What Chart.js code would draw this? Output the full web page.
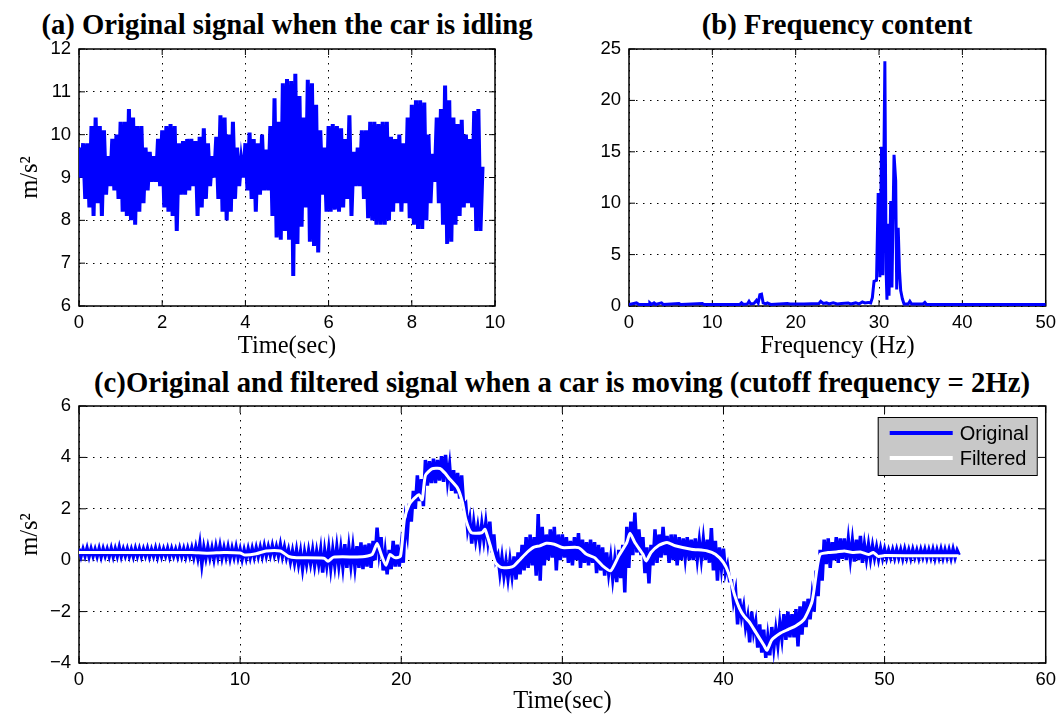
<!DOCTYPE html>
<html>
<head>
<meta charset="utf-8">
<title>Car acceleration signals</title>
<script src="https://cdn.jsdelivr.net/npm/chart.js@4.4.1/dist/chart.umd.min.js"></script>
<style>
  html, body { margin: 0; padding: 0; background: #fff; overflow: hidden; }
  body { position: relative; width: 1062px; height: 719px; }
  canvas { position: absolute; }
  .title { position: absolute; transform: translateX(-50%); white-space: nowrap;
           font: bold 28.7px "Liberation Serif", "Times New Roman", serif; line-height: 30px; color: #000; }
</style>
</head>
<body>
<div class="title" style="left:287px; top:9px;">(a) Original signal when the car is idling</div>
<div class="title" style="left:837px; top:9px;">(b) Frequency content</div>
<div class="title" style="left:562px; top:367px;">(c)Original and filtered signal when a car is moving (cutoff frequency = 2Hz)</div>
<canvas id="chartA" width="530" height="370" style="left:0; top:0;"></canvas>
<canvas id="chartB" width="502" height="370" style="left:560px; top:0;"></canvas>
<canvas id="chartC" width="1062" height="349" style="left:0; top:370px;"></canvas>
<script>
// ========================
// DATA
// ========================
// (a) idling: peaks / troughs of the trace, one every idleStep seconds
const idleStep = 0.05;
const idleAccel = [
  9.7, 9.0, 9.8, 8.5, 9.8, 8.3, 10.2, 8.1, 10.4, 8.4, 10.2, 8.1, 10.1, 8.6, 9.5, 8.8, 9.9, 8.7, 10.0, 8.5,
  10.3, 8.2, 10.3, 8.1, 10.6, 8.0, 10.4, 7.9, 10.2, 8.2, 10.2, 8.4, 9.7, 8.7, 9.6, 8.9, 9.5, 8.9, 9.9, 8.8,
  10.1, 8.3, 10.2, 8.2, 10.25, 8.1, 10.2, 7.75, 9.8, 8.6, 9.85, 8.6, 9.9, 8.7, 9.9, 8.8, 9.85, 8.1, 9.95, 8.3,
  10.15, 8.5, 9.8, 8.8, 9.5, 9.0, 9.95, 8.5, 10.45, 8.2, 10.4, 8.0, 10.0, 8.2, 10.3, 8.5, 9.7, 8.8, 9.4, 9.0,
  9.8, 8.7, 10.05, 8.5, 9.9, 8.2, 9.8, 8.6, 10.0, 8.7, 9.65, 8.7, 10.2, 8.1, 10.85, 7.6, 10.3, 7.55, 11.2, 7.75,
  11.3, 7.55, 11.25, 6.7, 11.42, 7.45, 10.9, 7.85, 10.4, 8.3, 11.28, 7.5, 11.2, 7.4, 10.7, 7.25, 10.1, 8.6, 9.7, 8.2,
  10.2, 8.2, 10.25, 8.25, 10.2, 8.2, 10.15, 8.3, 9.9, 8.5, 10.45, 8.1, 9.6, 8.8, 9.7, 8.8, 10.1, 8.5, 10.1, 8.05,
  10.3, 8.0, 10.3, 7.9, 10.25, 7.9, 10.3, 7.9, 10.3, 8.0, 9.95, 8.2, 9.9, 8.4, 10.0, 8.2, 9.8, 8.4, 10.4, 8.05,
  10.7, 7.9, 10.8, 7.8, 10.8, 7.8, 10.75, 8.0, 10.0, 8.4, 9.55, 8.9, 10.4, 8.4, 10.6, 7.9, 11.15, 7.45, 10.8, 7.5,
  10.4, 7.9, 10.25, 8.1, 10.35, 8.3, 10.0, 8.4, 9.9, 8.3, 10.55, 7.75, 10.6, 7.75, 9.25
];

// (b) frequency content
const freqHz = [
  0, 0.9, 1.2, 2.4, 2.5, 2.7, 3.0, 3.2, 3.9, 4.1, 6.0, 6.2, 8.8, 9.0, 13.3, 13.5, 13.7, 14.2, 14.4, 14.6,
  15.0, 15.3, 15.5, 15.7, 15.9, 16.1, 16.4, 16.6, 17.0, 19.0, 19.3, 21.0, 22.8, 23.0, 23.3, 23.7, 24.0, 24.5,
  25.0, 25.5, 26.3, 26.6, 27.2, 27.6, 28.0, 28.3, 28.7, 29.0, 29.2, 29.4, 29.7, 29.9, 30.1, 30.3, 30.45, 30.7,
  30.85, 30.95, 31.05, 31.2, 31.4, 31.55, 31.8, 32.0, 32.12, 32.3, 32.45, 32.6, 32.8, 33.0, 33.5, 33.7, 33.9,
  35.3, 35.5, 35.7, 50
];
const freqAmp = [
  0.15, 0.3, 0.15, 0.15, 0.3, 0.15, 0.3, 0.15, 0.3, 0.15, 0.25, 0.15, 0.25, 0.15, 0.15, 0.3, 0.15, 0.2, 0.45, 0.2,
  0.25, 0.55, 0.3, 1.1, 1.15, 0.3, 0.2, 0.3, 0.15, 0.25, 0.2, 0.2, 0.25, 0.45, 0.25, 0.3, 0.2, 0.3,
  0.2, 0.25, 0.3, 0.2, 0.3, 0.2, 0.4, 0.3, 0.35, 0.3, 0.8, 2.4, 2.5, 11, 2.8, 15.5, 3.0, 23.8,
  3.5, 0.6, 8.0, 1.0, 10.2, 1.8, 14.7, 12.2, 1.6, 7.6, 3.5, 1.5, 0.7, 0.2, 0.2, 0.45, 0.2,
  0.2, 0.35, 0.15, 0.15
];

// (c) moving car: original trace peaks / troughs every moveStep seconds (8 per second)
const moveStep = 0.125;
const moveOriginal = [
  0.45, 0.15, 0.43, 0.17, 0.46, 0.14, 0.44, 0.16,   0.42, 0.15, 0.45, 0.13, 0.44, 0.17, 0.43, 0.15,
  0.46, 0.14, 0.44, 0.16, 0.5, 0.15, 0.43, 0.17,    0.44, 0.15, 0.42, 0.14, 0.45, 0.16, 0.44, 0.15,
  0.43, 0.17, 0.45, 0.14, 0.42, 0.16, 0.46, 0.13,   0.44, 0.15, 0.43, 0.17, 0.45, 0.14, 0.44, 0.16,
  0.42, 0.14, 0.46, 0.15, 0.44, 0.13, 0.45, 0.16,   0.47, 0.12, 0.5, 0.1, 0.62, -0.15, 0.48, 0.08,
  0.5, 0.1, 0.47, 0.05, 0.52, 0.12, 0.55, 0.1,      0.48, 0.12, 0.5, 0.08, 0.46, 0.12, 0.5, 0.1,
  0.42, 0.04, 0.4, 0.08, 0.44, 0.1, 0.45, 0.12,     0.48, 0.15, 0.5, 0.16, 0.55, 0.18, 0.52, 0.2,
  0.56, 0.2, 0.52, 0.18, 0.6, 0.15, 0.5, 0.1,       0.4, -0.05, 0.35, -0.1, 0.38, -0.15, 0.32, -0.32,
  0.3, -0.15, 0.36, -0.12, 0.38, -0.2, 0.33, -0.15, 0.4, -0.48, 0.35, -0.2, 0.45, -0.3, 0.4, -0.2,
  0.5, -0.2, 0.45, -0.25, 0.62, -0.3, 0.5, -0.2,    0.5, -0.25, 0.55, -0.3, 0.69, -0.35, 0.6, -0.25,
  0.65, -0.3, 0.75, 0.0, 1.27, 0.3, 0.9, -0.4,      0.3, -0.55, 0.4, -0.35, 0.75, -0.25, 0.6, -0.25,
  0.55, -0.1, 1.5, 1.0, 2.2, 1.5, 2.7, 2.0,         3.3, 2.3, 3.15, 2.1, 3.9, 2.9, 3.85, 3.0,
  3.95, 3.0, 3.9, 3.1, 4.05, 3.05, 4.1, 3.1,        3.7, 2.7, 3.5, 2.6, 3.4, 2.4, 3.3, 2.1,
  2.2, 1.2, 1.6, 0.65, 1.45, 0.8, 1.3, 0.7,         1.4, 0.8, 1.45, 0.75, 1.5, 0.3, 1.0, 0.0,
  0.2, -0.5, 0.1, -0.6, -0.05, -0.7, 0.0, -0.6,     0.15, -0.75, 0.3, -0.55, 0.6, -0.4, 0.9, -0.3,
  1.0, -0.2, 0.9, -0.6, 1.8, -0.8, 1.3, -0.2,       1.0, 0.0, 1.2, 0.1, 1.3, -0.4, 1.0, 0.0,
  1.0, 0.1, 0.9, -0.1, 0.75, -0.2, 0.9, 0.0,        1.05, -0.3, 0.8, -0.1, 0.7, -0.2, 0.8, -0.1,
  0.7, -0.5, 0.6, -0.4, 0.5, -0.6, 0.3, -0.5,       0.1, -0.7, 0.0, -0.85, 0.4, -0.7, 0.6, -1.25,
  1.3, -0.3, 1.5, 0.2, 1.85, 0.3, 1.2, 0.2,         0.9, -0.5, 0.5, -0.9, 0.6, -0.2, 1.2, -0.1,
  1.0, 0.1, 1.3, 0.2, 0.95, -0.1, 1.0, 0.0,         1.0, -0.2, 0.9, 0.0, 0.85, 0.1, 0.9, 0.0,
  0.8, 0.0, 0.85, 0.05, 0.75, 0.05, 0.8, 0.0,       0.8, -0.1, 1.25, -0.4, 0.75, -0.8, 0.5, -0.3,
  0.45, -0.5, -0.2, -0.8, -0.8, -1.6, -1.2, -2.5,   -1.5, -2.2, -1.8, -2.6, -2.2, -3.2, -2.0, -2.8,
  -2.4, -3.4, -2.5, -3.6, -2.7, -3.8, -3.0, -3.7,   -2.6, -3.4, -2.7, -3.3, -2.45, -3.05, -2.1, -3.1,
  -2.0, -3.0, -2.1, -3.0, -1.9, -3.35, -1.8, -2.9,  -1.6, -2.6, -1.5, -2.3, -1.4, -2.0, -0.4, -1.4,
  0.4, -0.8, 0.8, -0.15, 0.85, -0.3, 0.7, 0.0,      0.9, -0.1, 0.85, 0.05, 0.85, 0.0, 0.8, 0.05,
  0.75, -0.05, 0.8, 0.0, 0.95, -0.1, 0.6, 0.05,     0.6, 0.05, 0.55, 0.1, 0.5, 0.05, 0.45, 0.08,
  0.42, 0.08, 0.38, 0.1, 0.4, 0.09, 0.41, 0.1,      0.4, 0.07, 0.42, 0.1, 0.39, 0.08, 0.41, 0.11,
  0.38, 0.08, 0.4, 0.12, 0.41, 0.09, 0.39, 0.1,     0.41, 0.07, 0.39, 0.1, 0.42, 0.09, 0.4, 0.1,
  0.4, 0.08, 0.42, 0.1, 0.38, 0.2
];
const filteredTime = [
  0, 2, 4, 6, 7, 8, 9, 10, 10.3, 11, 11.6, 12.5, 13.0, 13.5, 15.2, 15.45, 15.8, 17.6, 18.2, 18.5,
  18.8, 19.05, 19.3, 19.6, 19.95, 20.2, 20.5, 20.8, 21.1, 21.3, 21.5, 21.9, 22.4, 22.7, 22.95, 23.5, 23.8, 24.0,
  24.35, 25.0, 25.2, 25.5, 25.85, 26.2, 26.7, 27.0, 27.4, 27.8, 28.2, 28.6, 29.0, 29.5, 30.0, 31.0, 31.5, 32.0,
  32.5, 33.0, 33.5, 34.0, 34.2, 34.5, 35.0, 35.2, 35.5, 36.0, 36.5, 37.0, 38.0, 39.0, 39.5, 40.0, 40.3, 40.7,
  41.0, 41.3, 41.6, 42.0, 42.5, 42.7, 43.0, 43.5, 44.0, 44.5, 45.0, 45.5, 45.8, 46.0, 46.5, 47.0, 47.5, 48.0,
  48.5, 49.0, 49.3, 49.6, 50.0, 52.0, 54.6
];
const filteredAccel = [
  0.3, 0.3, 0.3, 0.3, 0.3, 0.27, 0.3, 0.28, 0.2, 0.25, 0.36, 0.36, 0.15, 0.1, 0.08, -0.04, 0.12, 0.13, 0.23, 0.65,
  0.15, -0.2, 0.22, 0.1, 0.15, 1.6, 2.17, 2.4, 2.55, 2.35, 3.3, 3.55, 3.57, 3.4, 3.2, 2.8, 2.25, 1.6,
  1.07, 1.07, 1.2, 0.62, -0.1, -0.28, -0.28, -0.22, 0.04, 0.3, 0.5, 0.56, 0.66, 0.62, 0.49, 0.49, 0.23, 0.1,
  -0.22, -0.41, 0.17, 0.69, 1.05, 0.69, 0.23, -0.03, 0.3, 0.58, 0.69, 0.56, 0.43, 0.36, 0.23, -0.09, -0.48, -1.38,
  -1.88, -2.2, -2.4, -2.8, -3.3, -3.5, -3.1, -2.85, -2.7, -2.55, -2.3, -1.6, -0.35, 0.23, 0.3, 0.32, 0.36, 0.3,
  0.32, 0.22, 0.3, 0.15, 0.18, 0.17, 0.17
];

// tick values
const ticksTimeA = [0, 2, 4, 6, 8, 10];
const ticksAccelA = [6, 7, 8, 9, 10, 11, 12];
const ticksFreq = [0, 10, 20, 30, 40, 50];
const ticksAmp = [0, 5, 10, 15, 20, 25];
const ticksTimeC = [0, 10, 20, 30, 40, 50, 60];
const ticksAccelC = [-4, -2, 0, 2, 4, 6];

// ========================
// STYLE HELPERS
// ========================
const BLUE = "#0000ff";
const TICK_FONT = { family: "'Liberation Sans', Arial, sans-serif", size: 18.5, lineHeight: 1.2 };
const LABEL_FONT = { family: "'Liberation Serif', 'Times New Roman', serif", size: 24.5, lineHeight: 1.2 };
const minusSign = (v) => String(v).replace("-", "\u2212");

function axis(min, max, tickList, size, title, titlePad, horizontal) {
  return {
    type: "linear",
    min, max,
    afterBuildTicks: (s) => { s.ticks = tickList.map((v) => ({ value: v })); },
    afterFit: (s) => { if (horizontal) s.height = size; else s.width = size; },
    ticks: { font: TICK_FONT, color: "#000", padding: horizontal ? 6 : 8, maxRotation: 0, autoSkip: false, callback: minusSign },
    grid: { color: "#000", lineWidth: 1, drawTicks: false },
    border: { display: false, dash: [1.5, 5.5] },
    title: title
      ? { display: true, text: title, font: LABEL_FONT, color: "#000",
          padding: horizontal ? { top: 0, bottom: titlePad } : { top: titlePad, bottom: 0 } }
      : { display: false },
  };
}

// box round the plot + inward tick marks (drawn under the data, like the original)
const frame = {
  id: "frame",
  beforeDatasetsDraw(chart, args, opts) {
    const { ctx, chartArea: a, scales } = chart;
    const len = opts.tick || 6;
    ctx.save();
    ctx.setLineDash([]);
    ctx.strokeStyle = "#000";
    ctx.lineWidth = 1.5;
    ctx.strokeRect(a.left, a.top, a.right - a.left, a.bottom - a.top);
    ctx.lineWidth = 1;
    ctx.beginPath();
    scales.x.ticks.forEach((t) => {
      const p = scales.x.getPixelForValue(t.value);
      ctx.moveTo(p, a.bottom); ctx.lineTo(p, a.bottom - len);
      ctx.moveTo(p, a.top); ctx.lineTo(p, a.top + len);
    });
    scales.y.ticks.forEach((t) => {
      const p = scales.y.getPixelForValue(t.value);
      ctx.moveTo(a.left, p); ctx.lineTo(a.left + len, p);
      ctx.moveTo(a.right, p); ctx.lineTo(a.right - len, p);
    });
    ctx.stroke();
    ctx.restore();
  },
};

// grey legend box in the top right corner of panel (c)
const legendBox = {
  id: "legendBox",
  afterDatasetsDraw(chart) {
    const { ctx, chartArea: a } = chart;
    const w = 159, h = 58;
    const x0 = a.right - 9 - w, y0 = a.top + 11;
    ctx.save();
    ctx.fillStyle = "#c8c8c8";
    ctx.fillRect(x0, y0, w, h);
    ctx.strokeStyle = "#000";
    ctx.lineWidth = 1;
    ctx.strokeRect(x0 + 0.5, y0 + 0.5, w, h);
    ctx.font = "20px 'Liberation Sans', Arial, sans-serif";
    ctx.textBaseline = "middle";
    ctx.fillStyle = "#000";
    chart.data.datasets.forEach((ds, i) => {
      const y = y0 + 16 + i * 25;
      ctx.strokeStyle = ds.borderColor;
      ctx.lineWidth = 4;
      ctx.beginPath();
      ctx.moveTo(x0 + 12, y); ctx.lineTo(x0 + 75, y);
      ctx.stroke();
      ctx.fillText(ds.label, x0 + 82, y + 1);
    });
    ctx.restore();
  },
};

function baseOptions(padding, scales, tick) {
  return {
    responsive: false,
    animation: false,
    events: [],
    layout: { padding },
    plugins: { legend: { display: false }, tooltip: { enabled: false }, title: { display: false }, frame: { tick } },
    scales,
  };
}

// ========================
// (a) IDLING SIGNAL
// ========================
new Chart(document.getElementById("chartA"), {
  type: "line",
  data: {
    datasets: [{
      label: "Original",
      data: idleAccel.map((v, i) => ({ x: +(i * idleStep).toFixed(2), y: v })),
      borderColor: BLUE, borderWidth: 4, pointRadius: 0, tension: 0,
    }],
  },
  options: baseOptions({ left: 0, right: 35, top: 49, bottom: 0 }, {
    x: axis(0, 10, ticksTimeA, 64, "Time(sec)", 8.6, true),
    y: axis(6, 12, ticksAccelA, 79, "m/s\u00b2", 15.6, false),
  }, 6),
  plugins: [frame],
});

// ========================
// (b) FREQUENCY CONTENT
// ========================
new Chart(document.getElementById("chartB"), {
  type: "line",
  data: {
    datasets: [{
      label: "Spectrum",
      data: freqHz.map((f, i) => ({ x: f, y: freqAmp[i] })),
      borderColor: BLUE, borderWidth: 3, pointRadius: 0, tension: 0,
    }],
  },
  options: baseOptions({ left: 0, right: 16, top: 49, bottom: 0 }, {
    x: axis(0, 50, ticksFreq, 64, "Frequency (Hz)", 8.6, true),
    y: axis(0, 25, ticksAmp, 69, null, 0, false),
  }, 6),
  plugins: [frame],
});

// ========================
// (c) MOVING CAR, ORIGINAL + FILTERED
// ========================
new Chart(document.getElementById("chartC"), {
  type: "line",
  data: {
    datasets: [
      {
        label: "Original",
        data: moveOriginal.map((v, i) => ({ x: i * moveStep, y: v })),
        borderColor: BLUE, borderWidth: 3.5, pointRadius: 0, tension: 0, order: 1,
      },
      {
        label: "Filtered",
        data: filteredTime.map((t, i) => ({ x: t, y: filteredAccel[i] })),
        borderColor: "#ffffff", borderWidth: 3, pointRadius: 0, tension: 0.2, order: 0,
      },
    ],
  },
  options: baseOptions({ left: 0, right: 16, top: 36, bottom: 0 }, {
    x: axis(0, 60, ticksTimeC, 56, "Time(sec)", 2.6, true),
    y: axis(-4, 6, ticksAccelC, 79, "m/s\u00b2", 15.6, false),
  }, 7),
  plugins: [frame, legendBox],
});
</script>
</body>
</html>
